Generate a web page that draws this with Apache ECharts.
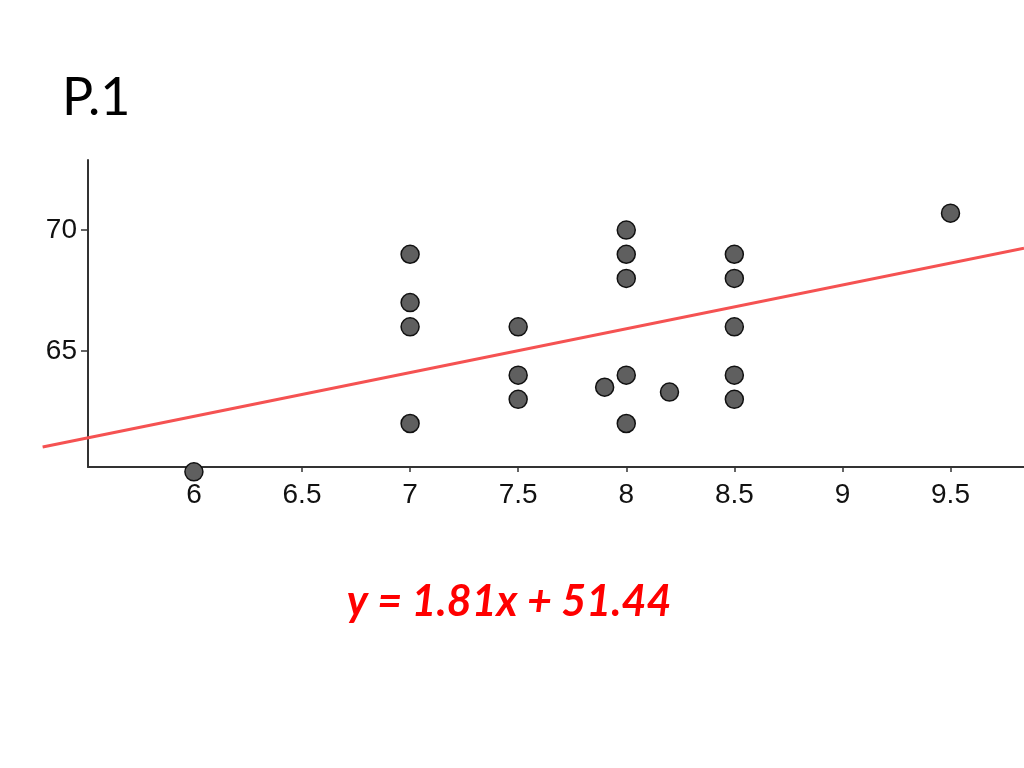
<!DOCTYPE html>
<html>
<head>
<meta charset="utf-8">
<script src="https://cdn.jsdelivr.net/npm/echarts@6/dist/echarts.min.js"></script>
<style>
  html, body { margin: 0; padding: 0; background: #fff; }
  #main { width: 1024px; height: 768px; }
</style>
</head>
<body>
<div id="main"></div>
<script>
// x = value, y = value
var xs = [6, 7, 7, 7, 7, 7.5, 7.5, 7.5, 7.9, 8, 8, 8, 8, 8, 8.2, 8.5, 8.5, 8.5, 8.5, 8.5, 9.5];
var ys = [60, 69, 67, 66, 62, 66, 64, 63, 63.5, 70, 69, 68, 64, 62, 63.3, 69, 68, 66, 64, 63, 70.7];
// end points of the fit line (it runs past the left axis)
var fitX = [5.3, 9.84];
var fitY = [61.03, 69.25];
var xTicks = [6, 6.5, 7, 7.5, 8, 8.5, 9, 9.5];
var yTicks = [65, 70];

var chart = echarts.init(document.getElementById('main'));

var points = [];
for (var i = 0; i < xs.length; i++) {
    points.push([xs[i], ys[i]]);
}
var fit = [];
for (var j = 0; j < fitX.length; j++) {
    fit.push([fitX[j], fitY[j]]);
}

var axisStyle = { lineStyle: { color: '#333', width: 2 } };
var labelFont = { fontFamily: 'Liberation Sans', fontSize: 28, color: '#111' };

var option = {
    animation: false,
    // grid 0 holds the axes and points, grid 1 (wider, hidden) lets the fit line run past the y axis
    grid: [
        { left: 88, right: 0, top: 160, bottom: 301 },
        { left: 42, right: 0, top: 160, bottom: 301 }
    ],
    xAxis: [
        {
            type: 'value',
            gridIndex: 0,
            min: 5.51,
            max: 9.84,
            splitLine: { show: false },
            axisLine: axisStyle,
            axisTick: { customValues: xTicks, length: 5, lineStyle: { color: '#333', width: 1.5 } },
            axisLabel: Object.assign({ customValues: xTicks, margin: 14 }, labelFont)
        },
        {
            type: 'value',
            gridIndex: 1,
            min: 5.297,
            max: 9.84,
            show: false
        }
    ],
    yAxis: [
        {
            type: 'value',
            gridIndex: 0,
            min: 60.2,
            max: 72.9,
            splitLine: { show: false },
            axisLine: axisStyle,
            axisTick: { customValues: yTicks, length: 7, lineStyle: { color: '#333', width: 1.5 } },
            axisLabel: Object.assign({ customValues: yTicks, margin: 11 }, labelFont)
        },
        {
            type: 'value',
            gridIndex: 1,
            min: 60.2,
            max: 72.9,
            show: false
        }
    ],
    series: [
        {
            type: 'line',
            xAxisIndex: 1,
            yAxisIndex: 1,
            data: fit,
            symbol: 'none',
            lineStyle: { color: '#f55252', width: 3 },
            z: 1
        },
        {
            type: 'scatter',
            xAxisIndex: 0,
            yAxisIndex: 0,
            data: points,
            clip: false,
            symbolSize: 18,
            itemStyle: { color: '#5f5f5f', borderColor: '#111', borderWidth: 1.5, opacity: 1 },
            z: 3
        }
    ],
    graphic: [
        {
            type: 'text',
            left: 62,
            top: 72,
            style: { text: 'P.1', font: '52px Lato', fill: '#000' }
        },
        {
            type: 'text',
            x: 509,
            y: 602,
            style: {
                text: 'y = 1.81x + 51.44',
                font: 'italic bold 43px Lato',
                fill: '#ff0000',
                align: 'center',
                verticalAlign: 'middle'
            }
        }
    ]
};

chart.setOption(option);
</script>
</body>
</html>
